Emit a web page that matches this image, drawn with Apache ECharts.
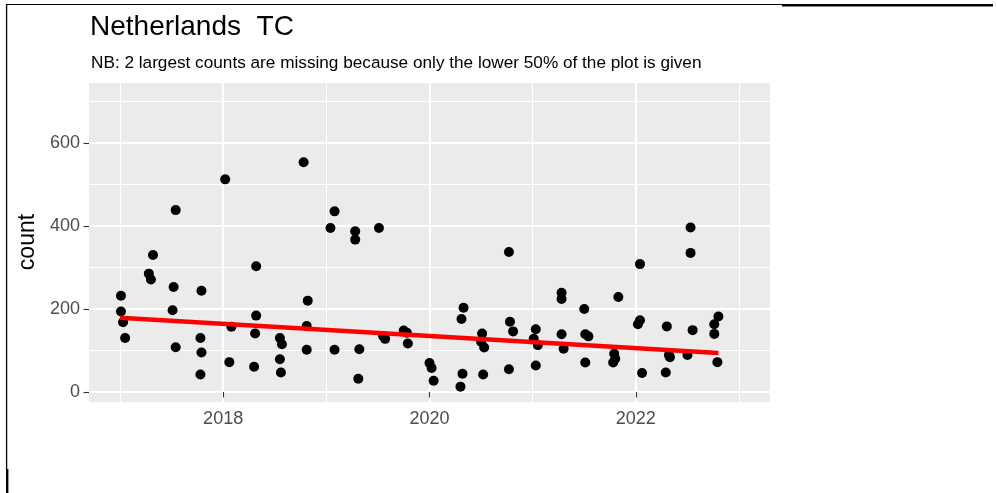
<!DOCTYPE html>
<html>
<head>
<meta charset="utf-8">
<script src="https://cdn.jsdelivr.net/npm/echarts@6/dist/echarts.min.js"></script>
<style>
html,body{margin:0;padding:0;background:#fff;}
#chart{width:997px;height:493px;}
</style>
</head>
<body>
<div id="chart"></div>
<script>
// decimal year of each observation
const years = [
  2017.01,2017.01,2017.03,2017.05,2017.28,2017.30,2017.32,2017.51,2017.52,2017.54,
  2017.54,2017.78,2017.78,2017.79,2017.79,2018.02,2018.06,2018.08,2018.30,2018.31,
  2018.32,2018.32,2018.55,2018.55,2018.56,2018.57,2018.78,2018.81,2018.81,2018.82,
  2019.04,2019.08,2019.08,2019.28,2019.28,2019.31,2019.32,2019.51,2019.55,2019.57,
  2019.75,2019.78,2019.79,2020.00,2020.02,2020.04,2020.30,2020.31,2020.32,2020.33,
  2020.50,2020.51,2020.52,2020.53,2020.77,2020.77,2020.78,2020.81,2021.01,2021.03,
  2021.03,2021.05,2021.28,2021.28,2021.28,2021.30,2021.50,2021.51,2021.51,2021.54,
  2021.78,2021.79,2021.80,2021.83,2022.02,2022.04,2022.04,2022.06,2022.29,2022.30,
  2022.32,2022.33,2022.50,2022.53,2022.53,2022.55,2022.76,2022.76,2022.79,2022.80
];
const counts = [
  232,194,168,130,285,271,330,197,253,438,
  108,130,42,244,95,512,72,157,61,141,
  303,184,130,79,47,115,553,159,102,220,
  395,435,102,387,367,32,103,395,135,128,
  148,143,117,70,58,27,13,176,44,203,
  121,141,42,107,337,55,169,146,128,151,
  64,113,239,224,139,104,200,139,71,134,
  71,92,80,229,163,308,173,46,47,158,
  89,84,89,396,335,149,163,140,72,182
];
// fitted trend line end points
const trendYears = [2017.0, 2022.8];
const trendCounts = [179, 94];
// tick labels / grid breaks
const xMajor = [2018, 2020, 2022];
const xMinor = [2017, 2019, 2021, 2023];
const yMajor = [0, 200, 400, 600];
const yMinor = [100, 300, 500, 700];

const FONT = '"Liberation Sans", Arial, sans-serif';
const chart = echarts.init(document.getElementById('chart'), null, {renderer:'canvas'});

const points = years.map((y,i)=>[y, counts[i]]);
const trend = trendYears.map((y,i)=>[y, trendCounts[i]]);

const hiddenAxisCommon = {
  axisLine:{show:false}, axisLabel:{show:false},
  axisTick:{show:false},
};

chart.setOption({
  backgroundColor:'#ffffff',
  animation:false,
  grid:{left:89, top:83, width:681, height:319, show:true, backgroundColor:'#EBEBEB', borderWidth:0},
  xAxis:[
    {type:'value', min:2016.7, max:2023.3, position:'bottom',
     axisLine:{show:false},
     axisTick:{show:true, length:5.5, lineStyle:{color:'#333333', width:1.1}, customValues:xMajor},
     axisLabel:{show:true, color:'#4D4D4D', fontSize:18, fontFamily:FONT, margin:8, customValues:xMajor,
       formatter:(v)=>String(Math.round(v))},
     splitLine:{show:true, lineStyle:{color:'#ffffff', width:2}}},
    Object.assign({type:'value', min:2016.7, max:2023.3, position:'top',
     splitLine:{show:true, lineStyle:{color:'#ffffff', width:1}}}, hiddenAxisCommon,
     {axisTick:{show:false, customValues:xMinor}})
  ],
  yAxis:[
    {type:'value', min:-24, max:744, position:'left',
     axisLine:{show:false},
     axisTick:{show:true, length:5.5, lineStyle:{color:'#333333', width:1.1}, customValues:yMajor},
     axisLabel:{show:true, color:'#4D4D4D', fontSize:18, fontFamily:FONT, margin:9, customValues:yMajor,
       formatter:(v)=>String(Math.round(v))},
     splitLine:{show:true, lineStyle:{color:'#ffffff', width:2}}},
    Object.assign({type:'value', min:-24, max:744, position:'right',
     splitLine:{show:true, lineStyle:{color:'#ffffff', width:1}}}, hiddenAxisCommon,
     {axisTick:{show:false, customValues:yMinor}})
  ],
  series:[
    {type:'scatter', data:points, symbol:'circle', symbolSize:10,
     itemStyle:{color:'#000000', opacity:1}, z:3, silent:true},
    {type:'line', data:trend, showSymbol:false, symbol:'none',
     lineStyle:{color:'#FF0000', width:4.5}, z:4, silent:true}
  ],
  graphic:[
    {type:'text', x:90, y:27, style:{text:'Netherlands  TC', font:'28px '+FONT, fill:'#000', verticalAlign:'middle', align:'left'}},
    {type:'text', x:91, y:63, style:{text:'NB: 2 largest counts are missing because only the lower 50% of the plot is given', font:'17.2px '+FONT, fill:'#000', verticalAlign:'middle', align:'left'}},
    {type:'text', x:27.5, y:242, rotation:Math.PI/2, style:{text:'count', font:'23px '+FONT, fill:'#000', verticalAlign:'middle', align:'center'}},
    {type:'line', shape:{x1:6.5, y1:4.5, x2:782, y2:4.5}, style:{stroke:'#000', lineWidth:1.2}},
    {type:'line', shape:{x1:782, y1:5.2, x2:993, y2:5.2}, style:{stroke:'#000', lineWidth:2.6}},
    {type:'line', shape:{x1:6.6, y1:4, x2:6.6, y2:469}, style:{stroke:'#000', lineWidth:1.3}},
    {type:'line', shape:{x1:7.2, y1:469, x2:7.2, y2:493}, style:{stroke:'#000', lineWidth:2.4}}
  ]
});
</script>
</body>
</html>
